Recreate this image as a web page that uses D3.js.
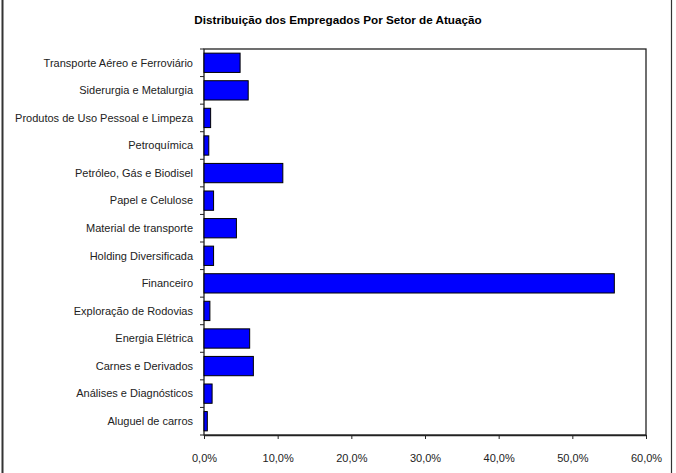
<!DOCTYPE html>
<html><head><meta charset="utf-8">
<script src="https://cdn.jsdelivr.net/npm/d3@7"></script>
<style>body{margin:0;background:#fff}svg{display:block}</style>
</head><body>
<script>
const categories = ["Transporte Aéreo e Ferroviário","Siderurgia e Metalurgia","Produtos de Uso Pessoal e Limpeza","Petroquímica","Petróleo, Gás e Biodisel","Papel e Celulose","Material de transporte","Holding Diversificada","Financeiro","Exploração de Rodovias","Energia Elétrica","Carnes e Derivados","Análises e Diagnósticos","Aluguel de carros"];
const values = [4.9, 6.0, 0.9, 0.65, 10.7, 1.3, 4.4, 1.3, 55.7, 0.8, 6.2, 6.7, 1.1, 0.45];
const xTicks = [0, 10, 20, 30, 40, 50, 60];
const title = "Distribuição dos Empregados Por Setor de Atuação";

const W = 676, H = 473;
const m = {left: 204, right: 646, top: 49, bottom: 435};
const svg = d3.select("body").append("svg").attr("width", W).attr("height", H);
const font = "'Liberation Sans', Arial, sans-serif";

// outer frame (only sides visible)
svg.append("line").attr("x1",2.5).attr("x2",2.5).attr("y1",0).attr("y2",H).attr("stroke","#333").attr("stroke-width",2);
svg.append("line").attr("x1",671.5).attr("x2",671.5).attr("y1",0).attr("y2",H).attr("stroke","#333").attr("stroke-width",1.2);

svg.append("text").attr("x", 338).attr("y", 23.5).attr("text-anchor","middle")
  .attr("font-family", font).attr("font-weight","bold").attr("font-size","11.7px").text(title);

const x = d3.scaleLinear().domain([0,60]).range([m.left, m.right]);
const y = d3.scaleBand().domain(categories).range([m.top, m.bottom]).paddingInner(0.3).paddingOuter(0.15);

// plot frame
svg.append("rect").attr("x", m.left).attr("y", m.top).attr("width", m.right-m.left).attr("height", m.bottom-m.top)
  .attr("fill","none").attr("stroke","#222").attr("stroke-width",1.3);

svg.selectAll(".bar").data(categories).join("rect")
  .attr("x", x(0)).attr("y", d => y(d))
  .attr("width", (d,i) => x(values[i]) - x(0)).attr("height", y.bandwidth())
  .attr("fill","#0000FF").attr("stroke","#000").attr("stroke-width",1);

// x axis
const xa = svg.append("g").attr("transform",`translate(0,${m.bottom})`)
  .call(d3.axisBottom(x).tickValues(xTicks).tickSize(4).tickSizeOuter(0).tickPadding(15)
    .tickFormat(d => d.toFixed(1).replace(".", ",") + "%"));
xa.select(".domain").attr("stroke","#222").attr("stroke-width",1.3);
xa.selectAll(".tick line").attr("stroke","#222");
xa.selectAll("text").attr("font-family", font).attr("font-size","11px").attr("fill","#222");

// y axis: ticks at band boundaries
const bounds = d3.range(categories.length + 1).map(i => m.top + (m.bottom - m.top) * i / categories.length);
svg.selectAll(".ytick").data(bounds).join("line")
  .attr("x1", m.left - 4).attr("x2", m.left).attr("y1", d => d).attr("y2", d => d)
  .attr("stroke","#222");
svg.selectAll(".ylab").data(categories).join("text")
  .attr("x", 193).attr("y", d => y(d) + y.bandwidth()/2).attr("dy","0.35em")
  .attr("text-anchor","end").attr("font-family", font).attr("font-size","11px").attr("fill","#222")
  .text(d => d);
</script>
</body></html>
